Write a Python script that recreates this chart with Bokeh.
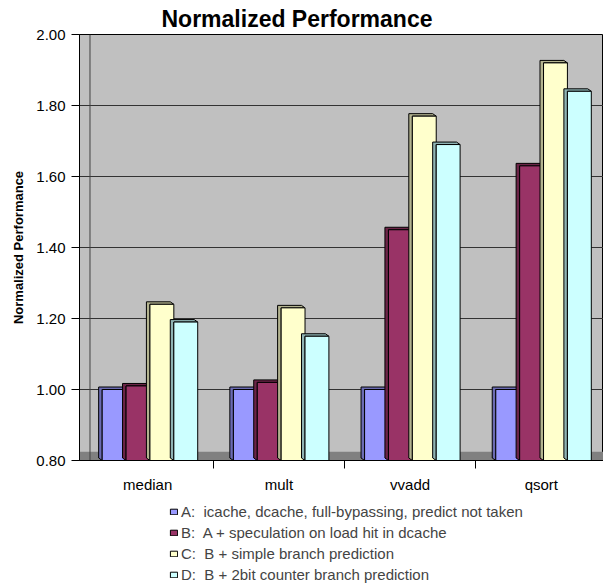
from bokeh.plotting import figure
from bokeh.layouts import column
from bokeh.models import (ColumnDataSource, FixedTicker, Legend, LegendItem,
                          BoxAnnotation, Title, Range1d, NumeralTickFormatter, Span)
from bokeh.embed import file_html
from bokeh.resources import INLINE

# ---- data ----
categories = ["median", "mult", "vvadd", "qsort"]
series_names = [
    "A:  icache, dcache, full-bypassing, predict not taken",
    "B:  A + speculation on load hit in dcache",
    "C:  B + simple branch prediction",
    "D:  B + 2bit counter branch prediction",
]
values_A = [1.00, 1.00, 1.00, 1.00]
values_B = [1.01, 1.02, 1.45, 1.63]
values_C = [1.24, 1.23, 1.77, 1.92]
values_D = [1.19, 1.15, 1.69, 1.84]
y_ticks = [0.80, 1.00, 1.20, 1.40, 1.60, 1.80, 2.00]

colors = ["#9999FF", "#993366", "#FFFFCC", "#CCFFFF"]
side_colors = ["#6B6BB3", "#6B2447", "#B3B38F", "#8FB3B3"]

FONT = "Liberation Sans"
Y0, Y1 = 0.80, 2.00
bar_w = 0.182
shift3d = 0.017
dx, dy = 0.027, 0.007
W = 603

p = figure(width=W, height=495, output_backend="svg", toolbar_location=None,
           x_range=Range1d(-0.02, 3.974), y_range=Range1d(Y0, Y1),
           min_border_left=79, min_border_right=0, min_border_top=34,
           min_border_bottom=32, background_fill_color="#C0C0C0",
           border_fill_color="white", outline_line_color="#000000")

p.title = None
t = Title(text="Normalized Performance", text_font=FONT, text_font_size="23px",
          text_font_style="bold", text_color="black", align="left", offset=82,
          standoff=5)
p.add_layout(t, "above")

# floor
p.add_layout(BoxAnnotation(bottom=Y0, top=Y0 + 0.025, fill_color="#808080",
                           fill_alpha=1.0, line_color=None, level="underlay"))
p.add_layout(Span(location=0.06, dimension="height", line_color="#404040",
                  line_width=1, level="underlay"))

all_vals = [values_A, values_B, values_C, values_D]
legend_src = []
for i, vals in enumerate(all_vals):
    off = (i - 1.5) * bar_w + shift3d
    xs = [j + 0.5 + off for j in range(len(categories))]
    lefts = [x - bar_w / 2 for x in xs]
    rights = [x + bar_w / 2 for x in xs]
    pxs = [[l, l, r, r - dx, l - dx, l - dx] for l, r in zip(lefts, rights)]
    pys = [[Y0, v, v, v + dy, v + dy, Y0 + dy] for v in vals]
    p.patches(xs=pxs, ys=pys, fill_color=side_colors[i], line_color="black",
              line_width=1)
    src = ColumnDataSource(dict(x=xs, top=vals))
    p.vbar(x="x", top="top", bottom=Y0, width=bar_w, source=src,
           fill_color=colors[i], line_color="black", line_width=1)
    legend_src.append(src)

# grid
p.xgrid.visible = False
p.ygrid.ticker = FixedTicker(ticks=y_ticks)
p.ygrid.grid_line_color = "#333333"
p.ygrid.grid_line_width = 1

# y axis
p.yaxis.ticker = FixedTicker(ticks=y_ticks)
p.yaxis.formatter = NumeralTickFormatter(format="0.00")
p.yaxis.major_label_text_font = FONT
p.yaxis.major_label_text_font_size = "15px"
p.yaxis.major_label_text_color = "black"
p.yaxis.major_tick_out = 8
p.yaxis.major_tick_in = 0
p.yaxis.minor_tick_line_color = None
p.yaxis.major_label_standoff = 6
p.yaxis.axis_label = "Normalized Performance"
p.yaxis.axis_label_text_font = FONT
p.yaxis.axis_label_text_font_size = "13px"
p.yaxis.axis_label_text_font_style = "bold"
p.yaxis.axis_label_text_color = "black"
p.yaxis.axis_label_standoff = 7
p.yaxis.axis_line_color = "black"

# x axis
p.xaxis.ticker = FixedTicker(ticks=[j + 0.5 for j in range(len(categories))],
                             minor_ticks=[1, 2, 3])
p.xaxis.major_label_overrides = {j + 0.5: c for j, c in enumerate(categories)}
p.xaxis.major_tick_out = 0
p.xaxis.major_tick_in = 0
p.xaxis.minor_tick_out = 8
p.xaxis.minor_tick_in = 0
p.xaxis.minor_tick_line_color = "black"
p.xaxis.major_label_text_font = FONT
p.xaxis.major_label_text_font_size = "15px"
p.xaxis.major_label_text_color = "black"
p.xaxis.major_label_standoff = 7
p.xaxis.axis_line_color = "black"

# legend figure (its bars lie far outside its visible range; only the legend shows)
lg = figure(width=W, height=88, output_backend="svg", toolbar_location=None,
            x_axis_location=None, y_axis_location=None, min_border=0,
            x_range=Range1d(1000, 1001), y_range=Range1d(1000, 1001),
            outline_line_color=None, background_fill_color="white")
lg.grid.visible = False
items = []
for i, name in enumerate(series_names):
    r = lg.vbar(x="x", top="top", bottom=Y0, width=bar_w, source=legend_src[i],
                fill_color=colors[i], line_color="black", line_width=1)
    items.append(LegendItem(label=name, renderers=[r]))
legend = Legend(items=items, location=(90, 0), orientation="vertical",
                label_text_font=FONT, label_text_font_size="15px",
                label_height=15, glyph_height=7, glyph_width=9, spacing=4,
                label_standoff=3, padding=0, margin=0,
                border_line_color=None, background_fill_alpha=0)
lg.add_layout(legend, "center")

layout = column(p, lg, spacing=0)
open("out.html", "w").write(file_html(layout, INLINE))
